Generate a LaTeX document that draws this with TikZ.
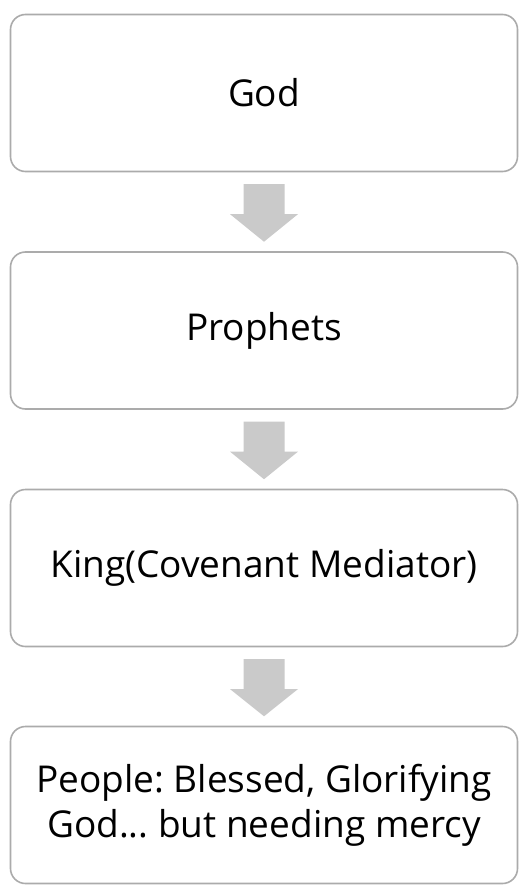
\documentclass[tikz,border=0pt]{standalone}
\usepackage{fontspec}
\setmainfont{Open Sans}
\frenchspacing
\definecolor{boxline}{HTML}{ABABAB}
\definecolor{arrowfill}{HTML}{CACACA}
\begin{document}
\begin{tikzpicture}[x=1pt,y=-1pt,
  stage/.style={draw=boxline,line width=1.6pt,rounded corners=15pt,fill=white,
    minimum width=507pt,minimum height=157pt,inner sep=0pt,align=center,
    font=\fontsize{37}{45}\selectfont,text=black}]
\useasboundingbox (0,0) rectangle (521,891);
\node[stage] (god) at (264,93) {God};
\node[stage] (prophets) at (264,330.5) {Prophets};
\node[stage] (king) at (264,568) {King(Covenant Mediator)};
\node[stage] (people) at (264,805) {People: Blessed, Glorifying\\God... but needing mercy};
\foreach \a/\b in {god/prophets,prophets/king,king/people}{
  \path (\a.south) -- (\b.north) coordinate[pos=0.15] (top) coordinate[pos=0.88] (tip);
  \fill[arrowfill] ([xshift=-20.5pt]top) -- ([xshift=20.5pt]top)
    -- ([xshift=20.5pt,yshift=-30pt]top) -- ([xshift=34pt,yshift=-30pt]top)
    -- (tip) -- ([xshift=-34pt,yshift=-30pt]top) -- ([xshift=-20.5pt,yshift=-30pt]top) -- cycle;
}
\end{tikzpicture}
\end{document}
